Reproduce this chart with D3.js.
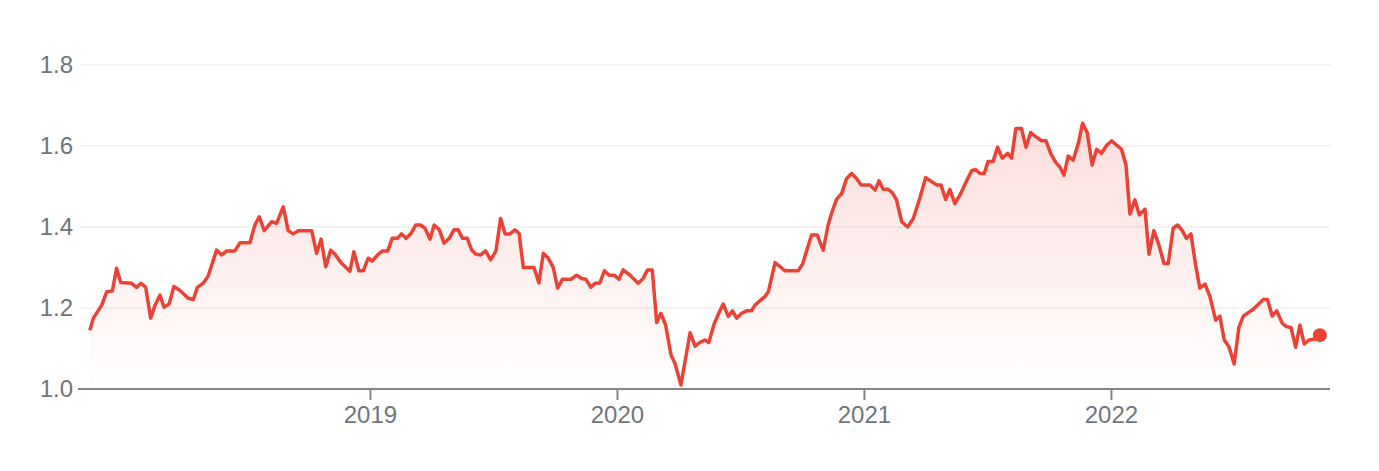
<!DOCTYPE html>
<html>
<head>
<meta charset="utf-8">
<script src="https://cdn.jsdelivr.net/npm/d3@7"></script>
<style>
html,body{margin:0;padding:0;background:#fff;}
svg{display:block;}
</style>
</head>
<body>
<svg id="chart" width="1379" height="471"></svg>
<script>
// Dates as decimal years, weekly-ish samples
const years = [
2017.864,2017.878,2017.912,2017.932,2017.955,2017.972,2017.989,2018.033,2018.053,2018.071,
2018.090,2018.110,2018.128,2018.148,2018.164,2018.185,2018.204,2018.229,2018.262,2018.283,
2018.299,2018.323,2018.343,2018.377,2018.398,2018.418,2018.451,2018.472,2018.512,2018.532,
2018.550,2018.570,2018.600,2018.620,2018.647,2018.667,2018.687,2018.708,2018.762,2018.782,
2018.800,2018.819,2018.839,2018.856,2018.881,2018.917,2018.933,2018.953,2018.971,2018.991,
2019.007,2019.032,2019.049,2019.070,2019.088,2019.109,2019.126,2019.144,2019.163,2019.184,
2019.203,2019.221,2019.241,2019.258,2019.279,2019.298,2019.319,2019.338,2019.355,2019.373,
2019.392,2019.410,2019.427,2019.446,2019.466,2019.487,2019.508,2019.527,2019.545,2019.565,
2019.585,2019.602,2019.619,2019.662,2019.682,2019.700,2019.720,2019.740,2019.758,2019.777,
2019.812,2019.835,2019.855,2019.872,2019.893,2019.909,2019.929,2019.947,2019.966,2019.987,
2020.006,2020.023,2020.051,2020.084,2020.104,2020.122,2020.141,2020.159,2020.176,2020.195,
2020.217,2020.233,2020.257,2020.294,2020.314,2020.334,2020.354,2020.370,2020.391,2020.409,
2020.428,2020.449,2020.466,2020.483,2020.503,2020.523,2020.543,2020.557,2020.577,2020.597,
2020.611,2020.638,2020.658,2020.678,2020.732,2020.750,2020.768,2020.786,2020.809,2020.833,
2020.853,2020.867,2020.887,2020.908,2020.928,2020.948,2020.968,2020.986,2021.022,2021.043,
2021.059,2021.076,2021.096,2021.113,2021.130,2021.151,2021.175,2021.198,2021.225,2021.248,
2021.272,2021.292,2021.310,2021.329,2021.346,2021.366,2021.387,2021.414,2021.434,2021.450,
2021.468,2021.485,2021.501,2021.521,2021.539,2021.558,2021.580,2021.596,2021.613,2021.636,
2021.654,2021.673,2021.694,2021.717,2021.735,2021.754,2021.775,2021.791,2021.808,2021.825,
2021.845,2021.866,2021.883,2021.902,2021.922,2021.940,2021.960,2021.981,2022.001,2022.021,
2022.041,2022.059,2022.075,2022.095,2022.113,2022.136,2022.152,2022.172,2022.192,2022.213,
2022.230,2022.250,2022.268,2022.287,2022.304,2022.322,2022.341,2022.358,2022.379,2022.399,
2022.422,2022.439,2022.457,2022.476,2022.497,2022.516,2022.534,2022.574,2022.615,2022.632,
2022.651,2022.669,2022.692,2022.709,2022.727,2022.746,2022.763,2022.781,2022.800,2022.821,
2022.844
];
const values = [
1.145,1.175,1.207,1.240,1.242,1.298,1.263,1.261,1.251,1.261,
1.251,1.175,1.207,1.232,1.202,1.210,1.253,1.243,1.224,1.221,
1.251,1.261,1.279,1.343,1.331,1.341,1.341,1.361,1.361,1.405,
1.425,1.391,1.413,1.409,1.450,1.391,1.383,1.391,1.391,1.335,
1.370,1.302,1.343,1.333,1.312,1.291,1.339,1.292,1.292,1.323,
1.316,1.333,1.341,1.341,1.372,1.372,1.383,1.372,1.383,1.405,
1.405,1.397,1.370,1.405,1.393,1.360,1.372,1.393,1.393,1.372,
1.372,1.343,1.333,1.331,1.341,1.319,1.341,1.421,1.383,1.383,
1.393,1.384,1.300,1.300,1.262,1.335,1.323,1.300,1.249,1.271,
1.271,1.281,1.273,1.271,1.251,1.261,1.262,1.292,1.281,1.281,
1.271,1.294,1.281,1.261,1.273,1.294,1.294,1.164,1.187,1.158,
1.084,1.063,1.010,1.139,1.106,1.115,1.121,1.115,1.160,1.185,
1.210,1.179,1.193,1.175,1.187,1.193,1.193,1.207,1.218,1.228,
1.240,1.312,1.302,1.292,1.292,1.309,1.345,1.380,1.380,1.343,
1.405,1.434,1.468,1.483,1.520,1.532,1.520,1.504,1.504,1.491,
1.514,1.493,1.493,1.485,1.467,1.413,1.400,1.421,1.473,1.522,
1.512,1.504,1.504,1.468,1.493,1.458,1.479,1.514,1.539,1.542,
1.532,1.532,1.562,1.562,1.597,1.570,1.582,1.570,1.643,1.643,
1.597,1.633,1.623,1.613,1.613,1.582,1.559,1.549,1.528,1.575,
1.565,1.606,1.656,1.633,1.553,1.592,1.582,1.602,1.613,1.602,
1.592,1.553,1.432,1.467,1.430,1.444,1.333,1.391,1.356,1.310,
1.310,1.397,1.405,1.391,1.372,1.383,1.306,1.249,1.259,1.228,
1.170,1.180,1.121,1.104,1.062,1.152,1.180,1.197,1.221,1.221,
1.180,1.193,1.162,1.154,1.152,1.103,1.158,1.111,1.121,1.123,
1.133
];
const yTicks = [1.0, 1.2, 1.4, 1.6, 1.8];
const xTicks = [2019, 2020, 2021, 2022];

const data = years.map((yr, i) => ({x: yr, v: values[i]}));

const svg = d3.select("#chart");
const mLeft = 80, mRight = 1330, mTop = 65, mBottom = 389;

const x = d3.scaleLinear().domain([2017.824, 2022.885]).range([mLeft, mRight]);
const y = d3.scaleLinear().domain([1.0, 1.8]).range([mBottom, mTop]);

const defs = svg.append("defs");
const grad = defs.append("linearGradient")
  .attr("id", "fillGrad")
  .attr("gradientUnits", "userSpaceOnUse")
  .attr("x1", 0).attr("x2", 0)
  .attr("y1", y(1.66)).attr("y2", y(1.0));
grad.append("stop").attr("offset", "0%").attr("stop-color", "#ea4335").attr("stop-opacity", 0.18);
grad.append("stop").attr("offset", "100%").attr("stop-color", "#ea4335").attr("stop-opacity", 0.0);

// gridlines
svg.append("g").selectAll("line").data(yTicks.filter(t => t > 1.0)).join("line")
  .attr("x1", mLeft).attr("x2", mRight)
  .attr("y1", d => y(d)).attr("y2", d => y(d))
  .attr("stroke", "#efefef").attr("stroke-width", 1.5);

// y labels
svg.append("g").selectAll("text").data(yTicks).join("text")
  .attr("x", 73).attr("y", d => y(d))
  .attr("dy", "0.35em")
  .attr("text-anchor", "end")
  .attr("font-family", "Liberation Sans, Arial, sans-serif")
  .attr("font-size", 24)
  .attr("fill", "#70757a")
  .text(d => d.toFixed(1));

// area
const area = d3.area().x(d => x(d.x)).y0(y(1.0)).y1(d => y(d.v));
svg.append("path").datum(data).attr("d", area).attr("fill", "url(#fillGrad)");

// x axis line
svg.append("line").attr("x1", mLeft - 2).attr("x2", mRight).attr("y1", mBottom).attr("y2", mBottom)
  .attr("stroke", "#80868b").attr("stroke-width", 2);

// x ticks
const xt = svg.append("g").selectAll("g").data(xTicks).join("g")
  .attr("transform", d => `translate(${x(d)},0)`);
xt.append("line").attr("y1", mBottom).attr("y2", mBottom + 11)
  .attr("stroke", "#80868b").attr("stroke-width", 2);
xt.append("text").attr("y", 423).attr("text-anchor", "middle")
  .attr("font-family", "Liberation Sans, Arial, sans-serif")
  .attr("font-size", 24).attr("fill", "#70757a")
  .text(d => d);

// line
const line = d3.line().x(d => x(d.x)).y(d => y(d.v));
svg.append("path").datum(data).attr("d", line)
  .attr("fill", "none").attr("stroke", "#ea4335").attr("stroke-width", 3.5)
  .attr("stroke-linejoin", "round");

// end dot
const last = data[data.length - 1];
svg.append("circle").attr("cx", x(last.x)).attr("cy", y(last.v)).attr("r", 7).attr("fill", "#ea4335");
</script>
</body>
</html>
